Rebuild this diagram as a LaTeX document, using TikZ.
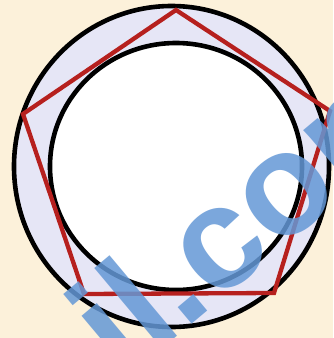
\documentclass[tikz,border=0pt]{standalone}
\usepackage{fontspec}
\newfontfamily\wmfont{Liberation Sans}
\definecolor{bgcream}{RGB}{252,241,218}
\definecolor{ringfill}{RGB}{230,230,246}
\definecolor{penred}{RGB}{182,32,30}
\definecolor{wmblue}{RGB}{100,152,214}
\tikzset{
  circline/.style={draw=black,line width=4.6pt},
  penline/.style={draw=penred,line width=4.3pt,line join=miter},
  wmark/.style={text=wmblue,opacity=0.85,inner sep=0pt,font=\wmfont\bfseries\fontsize{145}{145}\selectfont}
}
\begin{document}
\begin{tikzpicture}[x=1pt,y=-1pt]
\useasboundingbox (0,0) rectangle (333,338);
\clip (0,0) rectangle (333,338);
\fill[bgcream] (0,0) rectangle (333,338);
\coordinate (oc) at (171.5,166.5);
\coordinate (ic) at (176,166.5);
\fill[ringfill] (oc) ellipse [x radius=157.5, y radius=160.5];
\fill[white] (ic) ellipse [x radius=126, y radius=123.5];
\draw[circline] (oc) ellipse [x radius=157.5, y radius=160.5];
\draw[circline] (ic) ellipse [x radius=126, y radius=123.5];
\coordinate (pt) at (176,10);
\coordinate (pr) at (330,111);
\coordinate (pbr) at (274,293);
\coordinate (pbl) at (84,294);
\coordinate (pl) at (23,114);
\draw[penline] (pt) -- (pr) -- (pbr) -- (pbl) -- (pl) -- cycle;
\node[wmark,rotate=40,anchor=base west] (wm) at (123,382) {il.com};
\end{tikzpicture}
\end{document}
